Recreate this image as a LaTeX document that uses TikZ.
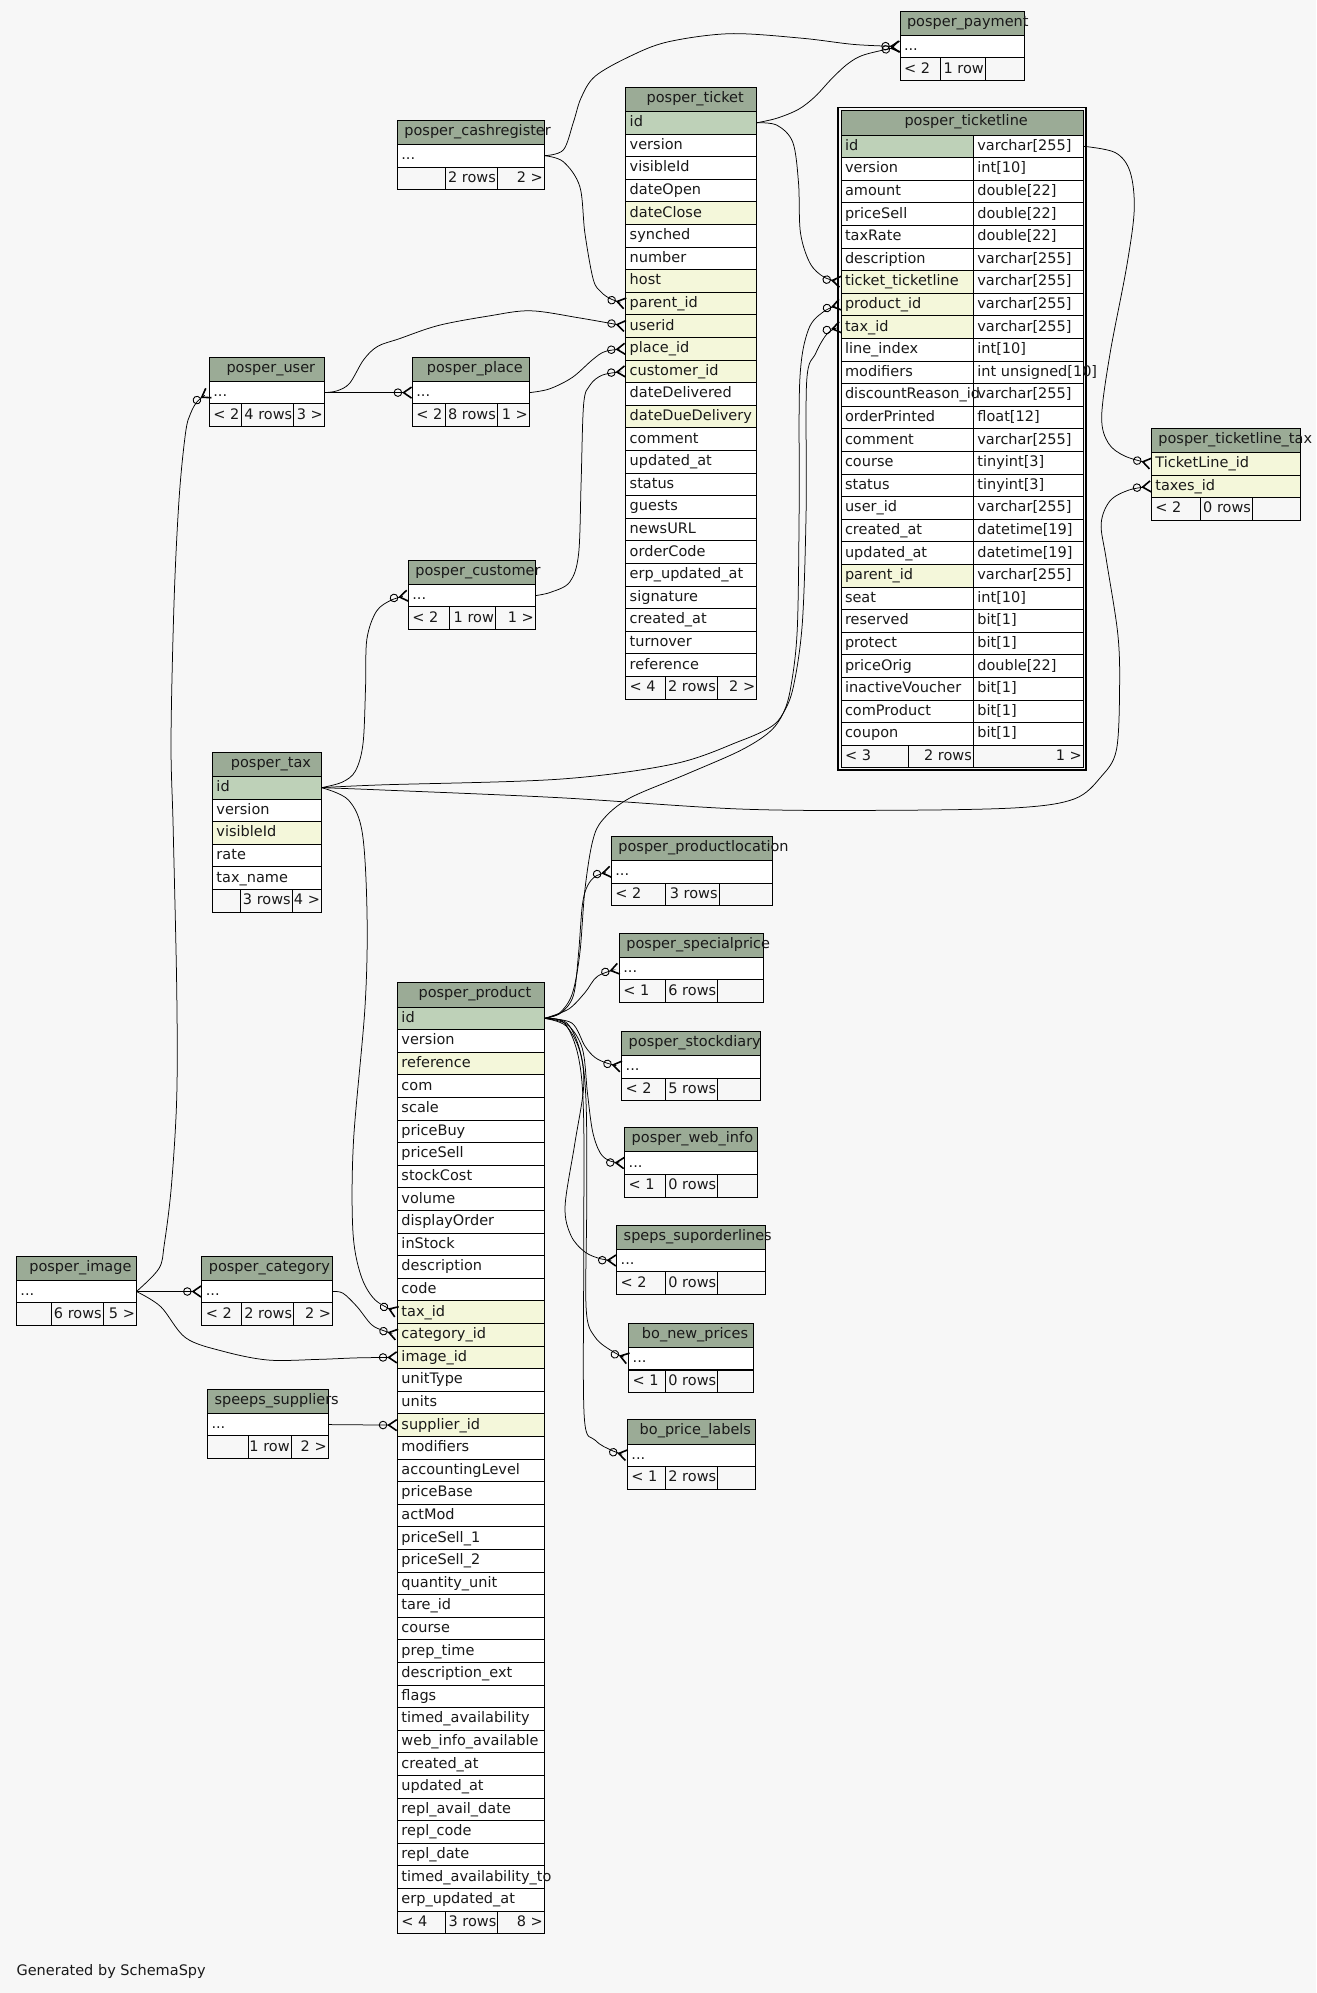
\documentclass[tikz,border=0pt]{standalone}
\usepackage{fontspec}
\setmainfont{DejaVu Sans}
\usetikzlibrary{arrows.meta}
\definecolor{colBg}{HTML}{F7F7F7}
\definecolor{colHdr}{HTML}{9BAB96}
\definecolor{colPk}{HTML}{BED1B8}
\definecolor{colFk}{HTML}{F4F7DA}
\newcommand\fs{\fontsize{14.5pt}{16pt}\selectfont}
\newcommand\ddd{...}
% header: id, x-left, y-top, x-right, text, mode (c/l)
\newcommand\thead[6]{%
  \node[cellbox, fill=colHdr, minimum width={(#4-#2)*1.2715pt}, minimum height={19*1.271pt}] (#1-h) at (#2,#3) {};
  \if#6c\node[txt, anchor=center] (#1-ht) at ([xshift=4pt,yshift=1pt]#1-h.center) {#5};%
  \else\node[txt] (#1-ht) at ([xshift=7pt,yshift=1pt]#1-h.west) {#5};\fi}
% rows: id, x-left, x-right, y-top of first row, list name/fill/text
\newcommand\trows[5]{%
  \foreach \cn/\cf/\ct [count=\ci from 0] in {#5}{%
    \node[cellbox, fill=\cf, minimum width={(#3-#2)*1.2715pt}] (#1-\cn) at (#2,{#4+\ci*17.78}) {};
    \node[txt] (#1-\cn-t) at ([xshift=4pt]#1-\cn.west) {\ct};}}
% two column rows: id, x0, x1, x2, y-top, list name/fill/text/type
\newcommand\trowsII[6]{%
  \foreach \cn/\cf/\ct/\cy [count=\ci from 0] in {#6}{%
    \node[cellbox, fill=\cf, minimum width={(#3-#2)*1.2715pt}] (#1-\cn) at (#2,{#5+\ci*17.78}) {};
    \node[cellbox, fill=white, minimum width={(#4-#3)*1.2715pt}] (#1-\cn-ty) at (#3,{#5+\ci*17.78}) {};
    \node[txt] (#1-\cn-t) at ([xshift=4pt]#1-\cn.west) {\ct};
    \node[txt] (#1-\cn-tt) at ([xshift=4pt]#1-\cn-ty.west) {\cy};}}
% footer: id, x0, x1, x2, x3, y, t1, t2, t3
\newcommand\tfoot[9]{%
  \node[cellbox, fill=colBg, minimum width={(#3-#2)*1.2715pt}] (#1-fa) at (#2,#6) {};
  \node[cellbox, fill=colBg, minimum width={(#4-#3)*1.2715pt}] (#1-fb) at (#3,#6) {};
  \node[cellbox, fill=colBg, minimum width={(#5-#4)*1.2715pt}] (#1-fc) at (#4,#6) {};
  \node[txt] (#1-fat) at ([xshift=4pt]#1-fa.west) {#7};
  \node[txt, anchor=east] (#1-fbt) at ([xshift=-1.5pt]#1-fb.east) {#8};
  \node[txt, anchor=east] (#1-fct) at ([xshift=-1.5pt]#1-fc.east) {#9};}
\begin{document}
\begin{tikzpicture}[x=1.2715pt, y=-1.271pt,
  cellbox/.style={draw=black, line width=0.9pt, inner sep=0pt, outer sep=0pt, anchor=north west, minimum height=17.78*1.271pt},
  txt/.style={inner sep=0pt, outer sep=0pt, anchor=west, text height=11pt, text depth=3pt, font=\fs, text=black!90},
  fkedge/.style={line width=0.75pt, -{Circle[open, length=8.5pt, width=8.5pt, line width=0.9pt]Straight Barb[reversed, length=8pt, width=11pt, line width=1.6pt]}},
  sm/.style={smooth, tension=0.55}]
\fill[colBg] (0,0) rectangle (1035,1568);
\useasboundingbox (0,0) rectangle (1035,1568);

% posper_payment
\thead{pay}{707.8}{8.7}{805.6}{posper\_payment}{l}
\trows{pay}{707.8}{805.6}{27.7}{dots/white/\ddd}
\tfoot{pay}{707.8}{739.5}{774.9}{805.6}{45.5}{< 2}{1 row}{}

% posper_cashregister
\thead{cr}{312.5}{94.6}{428.1}{posper\_cashregister}{l}
\trows{cr}{312.5}{428.1}{113.6}{dots/white/\ddd}
\tfoot{cr}{312.5}{350.2}{391.1}{428.1}{131.4}{}{2 rows}{2 >}

% posper_ticket
\thead{tk}{492.1}{68.7}{595.1}{posper\_ticket}{c}
\trows{tk}{492.1}{595.1}{87.7}{id/colPk/id, version/white/version, visibleId/white/visibleId, dateOpen/white/dateOpen, dateClose/colFk/dateClose, synched/white/synched, number/white/number, host/colFk/host, parentid/colFk/parent\_id, userid/colFk/userid, placeid/colFk/place\_id, customerid/colFk/customer\_id, dateDelivered/white/dateDelivered, dateDueDelivery/colFk/dateDueDelivery, comment/white/comment, updatedat/white/updated\_at, status/white/status, guests/white/guests, newsURL/white/newsURL, orderCode/white/orderCode, erpupdatedat/white/erp\_updated\_at, signature/white/signature, createdat/white/created\_at, turnover/white/turnover, reference/white/reference}
\tfoot{tk}{492.1}{523.5}{564.2}{595.1}{532.2}{< 4}{2 rows}{2 >}

% posper_ticketline (selected, double border)
\draw[line width=1.8pt] (659.3,84.5) rectangle (854.1,606.1);
\thead{tl}{661.4}{87.2}{852}{posper\_ticketline}{c}
\trowsII{tl}{661.4}{765.5}{852}{106.2}{id/colPk/id/varchar[255], version/white/version/int[10], amount/white/amount/double[22], priceSell/white/priceSell/double[22], taxRate/white/taxRate/double[22], description/white/description/varchar[255], ticketticketline/colFk/ticket\_ticketline/varchar[255], productid/colFk/product\_id/varchar[255], taxid/colFk/tax\_id/varchar[255], lineindex/white/line\_index/int[10], modifiers/white/modifiers/int unsigned[10], discountReasonid/white/discountReason\_id/varchar[255], orderPrinted/white/orderPrinted/float[12], comment/white/comment/varchar[255], course/white/course/tinyint[3], status/white/status/tinyint[3], userid/white/user\_id/varchar[255], createdat/white/created\_at/datetime[19], updatedat/white/updated\_at/datetime[19], parentid/colFk/parent\_id/varchar[255], seat/white/seat/int[10], reserved/white/reserved/bit[1], protect/white/protect/bit[1], priceOrig/white/priceOrig/double[22], inactiveVoucher/white/inactiveVoucher/bit[1], comProduct/white/comProduct/bit[1], coupon/white/coupon/bit[1]}
\tfoot{tl}{661.4}{714.4}{765.5}{852}{586.3}{< 3}{2 rows}{1 >}

% posper_ticketline_tax
\thead{tlt}{905.5}{336.9}{1022.7}{posper\_ticketline\_tax}{l}
\trows{tlt}{905.5}{1022.7}{355.9}{TicketLineid/colFk/TicketLine\_id, taxesid/colFk/taxes\_id}
\tfoot{tlt}{905.5}{944}{985}{1022.7}{391.5}{< 2}{0 rows}{}

% posper_user
\thead{us}{164.6}{281}{255.1}{posper\_user}{c}
\trows{us}{164.6}{255.1}{300}{dots/white/\ddd}
\tfoot{us}{164.6}{189.8}{231}{255.1}{317.8}{< 2}{4 rows}{3 >}

% posper_place
\thead{pl}{324.3}{281}{416.3}{posper\_place}{c}
\trows{pl}{324.3}{416.3}{300}{dots/white/\ddd}
\tfoot{pl}{324.3}{350.2}{391.1}{416.3}{317.8}{< 2}{8 rows}{1 >}

% posper_customer
\thead{cu}{321.1}{440.7}{421}{posper\_customer}{l}
\trows{cu}{321.1}{421}{459.7}{dots/white/\ddd}
\tfoot{cu}{321.1}{353.4}{389.6}{421}{477.5}{< 2}{1 row}{1 >}

% posper_tax
\thead{tx}{167.1}{591.8}{252.8}{posper\_tax}{c}
\trows{tx}{167.1}{252.8}{610.8}{id/colPk/id, version/white/version, visibleId/colFk/visibleId, rate/white/rate, taxname/white/tax\_name}
\tfoot{tx}{167.1}{189}{229.8}{252.8}{699.7}{}{3 rows}{4 >}

% posper_product
\thead{pr}{312.6}{773.3}{428.1}{posper\_product}{c}
\trows{pr}{312.6}{428.1}{792.3}{id/colPk/id, version/white/version, reference/colFk/reference, com/white/com, scale/white/scale, priceBuy/white/priceBuy, priceSell/white/priceSell, stockCost/white/stockCost, volume/white/volume, displayOrder/white/displayOrder, inStock/white/inStock, description/white/description, code/white/code, taxid/colFk/tax\_id, categoryid/colFk/category\_id, imageid/colFk/image\_id, unitType/white/unitType, units/white/units, supplierid/colFk/supplier\_id, modifiers/white/modifiers, accountingLevel/white/accountingLevel, priceBase/white/priceBase, actMod/white/actMod, priceSellA/white/priceSell\_1, priceSellB/white/priceSell\_2, quantityunit/white/quantity\_unit, tareid/white/tare\_id, course/white/course, preptime/white/prep\_time, descriptionext/white/description\_ext, flags/white/flags, timedavailability/white/timed\_availability, webinfoavailable/white/web\_info\_available, createdat/white/created\_at, updatedat/white/updated\_at, replavaildate/white/repl\_avail\_date, replcode/white/repl\_code, repldate/white/repl\_date, timedavailabilityto/white/timed\_availability\_to, erpupdatedat/white/erp\_updated\_at}
\tfoot{pr}{312.6}{350.2}{391.5}{428.1}{1503.5}{< 4}{3 rows}{8 >}

% posper_image
\thead{im}{12.9}{988.2}{107.3}{posper\_image}{c}
\trows{im}{12.9}{107.3}{1007.2}{dots/white/\ddd}
\tfoot{im}{12.9}{40.7}{81.2}{107.3}{1025}{}{6 rows}{5 >}

% posper_category
\thead{ca}{158.7}{988.2}{261.5}{posper\_category}{l}
\trows{ca}{158.7}{261.5}{1007.2}{dots/white/\ddd}
\tfoot{ca}{158.7}{190.2}{230.9}{261.5}{1025}{< 2}{2 rows}{2 >}

% speeps_suppliers
\thead{su}{163.2}{1092.9}{258.1}{speeps\_suppliers}{l}
\trows{su}{163.2}{258.1}{1111.9}{dots/white/\ddd}
\tfoot{su}{163.2}{195}{229}{258.1}{1129.7}{}{1 row}{2 >}

% right-hand small tables
\thead{loc}{480.8}{657.9}{607.4}{posper\_productlocation}{l}
\trows{loc}{480.8}{607.4}{676.9}{dots/white/\ddd}
\tfoot{loc}{480.8}{523.5}{565.5}{607.4}{694.7}{< 2}{3 rows}{}

\thead{sp}{487.1}{734.1}{600.3}{posper\_specialprice}{l}
\trows{sp}{487.1}{600.3}{753.1}{dots/white/\ddd}
\tfoot{sp}{487.1}{523.5}{564.4}{600.3}{770.9}{< 1}{6 rows}{}

\thead{sd}{488.9}{811.3}{598}{posper\_stockdiary}{l}
\trows{sd}{488.9}{598}{830.3}{dots/white/\ddd}
\tfoot{sd}{488.9}{523.5}{564.4}{598}{848.1}{< 2}{5 rows}{}

\thead{wi}{491.3}{887.2}{595.6}{posper\_web\_info}{l}
\trows{wi}{491.3}{595.6}{906.2}{dots/white/\ddd}
\tfoot{wi}{491.3}{523.5}{564.4}{595.6}{924}{< 1}{0 rows}{}

\thead{so}{485}{963.8}{601.9}{speps\_suporderlines}{l}
\trows{so}{485}{601.9}{982.8}{dots/white/\ddd}
\tfoot{so}{485}{523.5}{564.4}{601.9}{1000.6}{< 2}{0 rows}{}

\thead{np}{494.4}{1041}{592.5}{bo\_new\_prices}{c}
\trows{np}{494.4}{592.5}{1060}{dots/white/\ddd}
\tfoot{np}{494.4}{523.5}{564.4}{592.5}{1077.8}{< 1}{0 rows}{}

\thead{lb}{493.4}{1117.1}{594}{bo\_price\_labels}{c}
\trows{lb}{493.4}{594}{1136.1}{dots/white/\ddd}
\tfoot{lb}{493.4}{523.5}{564.4}{594}{1153.9}{< 1}{2 rows}{}

\node[txt] (gen) at (13,1551) {Generated by SchemaSpy};

% ---------- connectors ----------
\draw[fkedge] plot[sm] coordinates {(cr-dots.east) (443,118) (451,96) (457,77) (468,60) (495,44.5) (525,33) (574,26.5) (630,30) (672,35) (pay-dots.west)};
\draw[fkedge] plot[sm] coordinates {(tk-id.east) (611,93) (628,86) (641,76) (654,62) (667,50) (680,43) (pay-dots.west)};
\draw[fkedge] plot[sm] coordinates {(cr-dots.east) (443,127.2) (456,146.8) (460,183.5) (466.6,220) (473,230) (481,235.5) (tk-parentid.west)};
\draw[fkedge] plot[sm] coordinates {(tk-id.east) (611,98.5) (623.5,112) (628,144) (629.5,183) (637,207) (648,218) (tl-ticketticketline.west)};
\draw[fkedge] plot[sm] coordinates {(us-dots.east) (265,307.5) (275,301.5) (286,283) (297,272.5) (314,266.5) (345,256) (385,248.5) (417,244.5) (455,250) (tk-userid.west)};
\draw[fkedge] (us-dots.east) -- (pl-dots.west);
\draw[fkedge] plot[sm] coordinates {(pl-dots.east) (432,306) (450,297) (466,283) (476,276.5) (tk-placeid.west)};
\draw[fkedge] plot[sm] coordinates {(cu-dots.east) (433,466) (448,458) (455,436) (457,380) (459,318) (464,303) (474,295) (tk-customerid.west)};
\draw[fkedge] plot[sm] coordinates {(tx-id.east) (269,615.4) (279.5,606.6) (285.5,585) (287.5,540) (288.5,503) (296,481) (308,472) (cu-dots.west)};
\draw[fkedge] plot[sm] coordinates {(tx-id.east) (274,629.4) (285,655.7) (288.7,722) (287,793) (278,898) (277.5,968) (283.7,1003) (295,1022.7) (pr-taxid.west)};
\draw[fkedge] plot[sm] coordinates {(tx-id.east) (300,617.5) (440,613) (530,601) (582,583) (606,572) (616,561) (624,540) (631,490) (634,400) (634.4,300) (641.5,278) (651,262) (tl-taxid.west)};
\draw[fkedge] plot[sm] coordinates {(tx-id.east) (300,621.5) (440,627.6) (582,636.5) (700,637.5) (800,635.5) (845,628.5) (866,611) (878,590) (880.5,540) (879,498) (870,440) (866,412) (873,394) (888,385.5) (tlt-taxesid.west)};
\draw[fkedge] plot[sm] coordinates {(tl-id-ty.east) (877,120) (888.7,135) (892,165) (886,210) (873,278) (866.4,327.7) (871.7,348.7) (885,359) (tlt-TicketLineid.west)};
\draw[fkedge] plot[sm] coordinates {(im-dots.east) (125,998) (129.2,979) (134.8,933) (139,863) (139,779) (136.2,652) (134.5,582) (137,470) (141,390) (146,340) (150,325) (155.5,315.5) (us-dots.west)};
\draw[fkedge] (im-dots.east) -- (ca-dots.west);
\draw[fkedge] plot[sm] coordinates {(im-dots.east) (126.4,1028) (146,1052.5) (175,1063) (210.7,1070) (250,1069.5) (280.8,1068.3) (pr-imageid.west)};
\draw[fkedge] plot[sm] coordinates {(ca-dots.east) (269.7,1017.4) (280.8,1028) (292,1042) (301.4,1046.8) (pr-categoryid.west)};
\draw[fkedge] (su-dots.east) -- (pr-supplierid.west);
\draw[fkedge] plot[sm] coordinates {(pr-id.east) (440,797) (450,782) (456,750) (460,700) (466,662) (474,645) (495,628) (540,609) (582,590.6) (605,576) (616,561) (622,540) (627,495) (628.5,400) (629,299) (635.7,259.5) (648,245) (tl-productid.west)};
\draw[fkedge] plot[sm] coordinates {(pr-id.east) (441,797) (451,783) (455,750) (458,712) (462,697) (469,689) (loc-dots.west)};
\draw[fkedge] plot[sm] coordinates {(pr-id.east) (447,794) (460,781) (470,768) (sp-dots.west)};
\draw[fkedge] plot[sm] coordinates {(pr-id.east) (449.6,804.8) (460,823) (468,832) (477.6,836.5) (sd-dots.west)};
\draw[fkedge] plot[sm] coordinates {(pr-id.east) (446,806) (458,825) (462,860) (466,890) (472,907) (480,913.5) (wi-dots.west)};
\draw[fkedge] plot[sm] coordinates {(pr-id.east) (445,807) (456,827) (459,855) (452,900) (444.4,949) (449,972) (460,985) (473,990.5) (so-dots.west)};
\draw[fkedge] plot[sm] coordinates {(pr-id.east) (446,805) (457,830) (461,870) (461.4,950) (461,1030) (468,1052) (483,1064) (np-dots.west)};
\draw[fkedge] plot[sm] coordinates {(pr-id.east) (444,805) (455,832) (459,880) (459,1000) (459.5,1115) (468,1133) (482,1141.5) (lb-dots.west)};
\end{tikzpicture}
\end{document}
